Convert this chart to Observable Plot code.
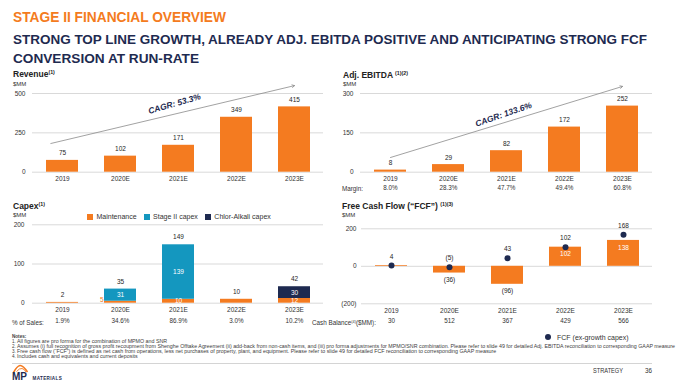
<!DOCTYPE html>
<html><head><meta charset="utf-8">
<script src="https://cdn.jsdelivr.net/npm/d3@7"></script>
<script src="https://cdn.jsdelivr.net/npm/@observablehq/plot@0.6"></script>
<style>
html,body{margin:0;padding:0;background:#fff;}
#page{position:relative;width:677px;height:384px;overflow:hidden;font-family:"Liberation Sans",Arial,sans-serif;color:#262626;}
.abs{position:absolute;white-space:nowrap;line-height:1;}
sup{font-size:0.62em;vertical-align:0.45em;line-height:0;}
</style></head><body><div id="page"></div>
<script>
// ---------- data ----------
const years = ["2019","2020E","2021E","2022E","2023E"];
const revenue = [75,102,171,349,415];
const revenueTicks = [0,250,500];
const ebitda = [8,29,82,172,252];
const ebitdaTicks = [0,150,300];
const ebitdaMargin = ["8.0%","28.3%","47.7%","49.4%","60.8%"];
const capexSeries = ["Maintenance","Stage II capex","Chlor-Alkali capex"];
const capexMaintenance = [2,5,10,10,12];
const capexStage2 = [0,31,139,0,0];
const capexChlorAlkali = [0,0,0,0,30];
const capexTotal = [2,35,149,10,42];
const capexTicks = [0,100,200];
const pctOfSales = ["1.9%","34.6%","86.9%","3.0%","10.2%"];
const fcf = [4,-36,-96,102,138];
const fcfBarLabels = ["","(36)","(96)","102","138"];
const fcfExGrowth = [4,-5,43,102,168];
const fcfTicks = [-200,0,200];
const cashBalance = [30,512,367,429,566];
const revenueCagr = [{x1:"2019",y1:200,x2:"2023E",y2:550,tx:"2021E",ty:434,label:"CAGR: 53.3%"}];
const ebitdaCagr = [{x1:"2019",y1:56,x2:"2023E",y2:327,tx:"2021E",ty:220,label:"CAGR: 133.6%"}];
const notes = [
  "All figures are pro forma for the combination of MPMO and SNR",
  "Assumes (i) full recognition of gross profit recoupment from Shenghe Offtake Agreement (ii) add-back from non-cash items, and (iii) pro forma adjustments for MPMO/SNR combination. Please refer to slide 49 for  detailed Adj. EBITDA reconciliation to corresponding GAAP measure",
  "Free cash flow (\u201CFCF\u201D) is defined as net cash from operations, less net purchases of property, plant, and equipment. Please refer to slide 49 for detailed FCF reconciliation to corresponding GAAP measure",
  "Includes cash and equivalents and current deposits"
];

// ---------- style ----------
const FONT = '"Liberation Sans", Arial, sans-serif';
const ORANGE = "#F47B20", TEAL = "#1497BF", NAVY = "#1E2A50", GRID = "#d9d9d9", TXT = "#262626";
const capexColors = [ORANGE, TEAL, NAVY];
const page = document.getElementById("page");
const fmtNeg = v => v < 0 ? `(${-v})` : String(v);

function label(x, y, html, css = {}, fitW, anchor = "start") {
  const d = document.createElement("div");
  d.className = "abs";
  d.innerHTML = html;
  Object.assign(d.style, {left: x + "px", top: y + "px"}, css);
  page.appendChild(d);
  const w = d.getBoundingClientRect().width;
  const sx = fitW ? fitW / w : 1;
  const tx = anchor === "end" ? -w * sx : anchor === "middle" ? -w * sx / 2 : 0;
  d.style.transformOrigin = "0 0";
  d.style.transform = `translate(${tx}px,-50%) scaleX(${sx})`;
  return d;
}

function chart({left, top, width, height, xa, xb, yTop, yBase, yDomain, yTicks, yFmt = fmtNeg, tickPad = 7, marks, extra = {}}) {
  const svg = Plot.plot({
    width, height,
    marginLeft: xa - left, marginRight: left + width - xb,
    marginTop: yTop - top, marginBottom: top + height - yBase,
    style: {background: "transparent", fontFamily: FONT, fontSize: "6.5px", color: "#333", overflow: "visible"},
    x: {type: "band", domain: years, paddingInner: 0.45, paddingOuter: 0.225, tickSize: 0, tickPadding: 4.5, label: null},
    y: {domain: yDomain, ticks: yTicks, tickFormat: yFmt, tickSize: 0, tickPadding: tickPad, label: null},
    ...extra,
    marks: [Plot.ruleY(yTicks, {stroke: GRID, strokeWidth: 1}), ...marks]
  });
  svg.style.position = "absolute";
  svg.style.left = left + "px";
  svg.style.top = top + "px";
  page.appendChild(svg);
  return svg;
}

// ---------- headings ----------
label(13, 16.7, "STAGE II FINANCIAL OVERVIEW", {fontSize: "14px", fontWeight: "bold", color: ORANGE}, 213);
label(13, 38.7, "STRONG TOP LINE GROWTH, ALREADY ADJ. EBITDA POSITIVE AND ANTICIPATING STRONG FCF", {fontSize: "13px", fontWeight: "bold", color: NAVY}, 634);
label(13, 58.2, "CONVERSION AT RUN-RATE", {fontSize: "13px", fontWeight: "bold", color: NAVY}, 186);

const titleCss = {fontSize: "8.5px", fontWeight: "bold", color: "#222"};
const unitCss = {fontSize: "6px", color: "#333"};
label(13, 74, "Revenue<sup>(1)</sup>", titleCss);
label(13, 83.5, "$MM", unitCss);
label(343, 74.5, "Adj. EBITDA <sup>(1)(2)</sup>", titleCss);
label(343, 84, "$MM", unitCss);
label(13, 206, "Capex<sup>(1)</sup>", titleCss);
label(13, 214.5, "$MM", unitCss);
label(342, 205.7, "Free Cash Flow (\u201CFCF\u201D) <sup>(1)(3)</sup>", titleCss);
label(342, 215, "$MM", unitCss);

const rowCss = {fontSize: "6.3px", color: "#333"};
label(342, 189.3, "Margin:", rowCss);
label(12, 322.7, "% of Sales:", rowCss);
label(312, 322.7, "Cash Balance<sup>(4)</sup>($MM):", rowCss);

// ---------- Revenue ----------
const revData = years.map((year, i) => ({year, value: revenue[i]}));
chart({left: 0, top: 70, width: 340, height: 130, xa: 32, xb: 323, yTop: 93, yBase: 171.7,
  yDomain: [0, 500], yTicks: revenueTicks,
  marks: [
    Plot.barY(revData, {x: "year", y: "value", fill: ORANGE}),
    Plot.text(revData, {x: "year", y: "value", text: d => String(d.value), dy: -7, fill: TXT, fontSize: 6.5}),
    Plot.arrow(revenueCagr, {x1: "x1", y1: "y1", x2: "x2", y2: "y2", stroke: "#8a8a8a", strokeWidth: 0.8, headLength: 5, insetStart: -12}),
    Plot.text(revenueCagr, {x: "tx", y: "ty", text: "label", rotate: -16, dx: -4, fill: NAVY, fontSize: 8.5, fontWeight: "bold", fontStyle: "italic"})
  ]});

// ---------- Adj. EBITDA ----------
const ebData = years.map((year, i) => ({year, value: ebitda[i], margin: ebitdaMargin[i]}));
chart({left: 330, top: 70, width: 340, height: 130, xa: 360, xb: 652, yTop: 93, yBase: 171.7,
  yDomain: [0, 300], yTicks: ebitdaTicks,
  marks: [
    Plot.barY(ebData, {x: "year", y: "value", fill: ORANGE}),
    Plot.text(ebData, {x: "year", y: "value", text: d => String(d.value), dy: -7, fill: TXT, fontSize: 6.5}),
    Plot.text(ebData, {x: "year", text: "margin", frameAnchor: "bottom", dy: 17.6, fill: "#333", fontSize: 6.3}),
    Plot.arrow(ebitdaCagr, {x1: "x1", y1: "y1", x2: "x2", y2: "y2", stroke: "#8a8a8a", strokeWidth: 0.8, headLength: 5}),
    Plot.text(ebitdaCagr, {x: "tx", y: "ty", text: "label", rotate: -19, dx: -3, fill: NAVY, fontSize: 8.5, fontWeight: "bold", fontStyle: "italic"})
  ]});

// ---------- Capex ----------
const capexValues = [capexMaintenance, capexStage2, capexChlorAlkali];
const capexLong = years.flatMap((year, i) => capexSeries.map((series, s) => ({year, series, value: capexValues[s][i]})))
  .filter(d => d.value > 0);
const segCount = y => capexLong.filter(d => d.year === y).length;
const capexTotals = years.map((year, i) => ({year, total: capexTotal[i], pct: pctOfSales[i]}));
chart({left: 0, top: 205, width: 340, height: 125, xa: 32, xb: 323, yTop: 224.3, yBase: 302.7,
  yDomain: [0, 200], yTicks: capexTicks, tickPad: 8,
  extra: {color: {domain: capexSeries, range: capexColors}},
  marks: [
    Plot.barY(capexLong, {x: "year", y: "value", fill: "series"}),
    Plot.text(capexLong, Plot.stackY({x: "year", y: "value", z: "series",
      text: d => segCount(d.year) > 1 && d.value >= 8 ? String(d.value) : "", fill: "white", fontSize: 6.5})),
    Plot.text(capexLong, Plot.stackY({x: "year", y: "value", z: "series",
      text: d => segCount(d.year) > 1 && d.value < 8 ? String(d.value) : "", fill: ORANGE, fontSize: 6.5, textAnchor: "end", dx: -17, dy: -2})),
    Plot.text(capexTotals, {x: "year", y: "total", text: d => String(d.total), dy: -7.5, fill: TXT, fontSize: 6.5}),
    Plot.text(capexTotals, {x: "year", text: "pct", frameAnchor: "bottom", dy: 20, fill: "#333", fontSize: 6.3})
  ]});

const legend = Plot.legend({color: {type: "categorical", domain: capexSeries, range: capexColors},
  swatchSize: 6, style: {fontFamily: FONT, fontSize: "7px", color: "#333", background: "transparent"}});
legend.style.position = "absolute";
legend.style.left = "87px";
legend.style.top = "200.2px";
legend.style.margin = "0";
page.appendChild(legend);

// ---------- FCF ----------
const fcfData = years.map((year, i) => ({year, bar: fcf[i], dot: fcfExGrowth[i], barLabel: fcfBarLabels[i], cash: cashBalance[i]}));
chart({left: 300, top: 205, width: 370, height: 125, xa: 361, xb: 652, yTop: 228.3, yBase: 303.3,
  yDomain: [-200, 200], yTicks: fcfTicks, tickPad: 5,
  marks: [
    Plot.barY(fcfData, {x: "year", y: "bar", fill: ORANGE}),
    Plot.text(fcfData.filter(d => d.bar < 0), {x: "year", y: "bar", text: "barLabel", dy: 7, fill: TXT, fontSize: 6.5}),
    Plot.text(fcfData.filter(d => d.bar >= 0), {x: "year", y: "bar", text: "barLabel", dy: 7, fill: "white", fontSize: 6.5}),
    Plot.dot(fcfData, {x: "year", y: "dot", r: 3, fill: NAVY}),
    Plot.text(fcfData, {x: "year", y: "dot", text: d => fmtNeg(d.dot), dy: -9, fill: TXT, fontSize: 6.5}),
    Plot.text(fcfData, {x: "year", text: d => String(d.cash), frameAnchor: "bottom", dy: 19.4, fill: "#333", fontSize: 6.3})
  ]});

// FCF legend
const dotEl = document.createElement("div");
Object.assign(dotEl.style, {position: "absolute", left: "545.3px", top: "333.7px", width: "6px", height: "6px", borderRadius: "50%", background: NAVY});
page.appendChild(dotEl);
label(557, 336.7, "FCF (ex-growth capex)", {fontSize: "7px", color: "#333"});

// ---------- notes ----------
const noteCss = {fontSize: "4.6px", color: "#404040"};
label(12, 336.5, "Notes:", {...noteCss, fontWeight: "bold"});
const noteY = [341.5, 346.5, 351.5, 356.5];
// measure the longest line to fit the full width
const probe = label(17, -50, notes[1], noteCss);
const noteScale = 658 / probe.getBoundingClientRect().width;
probe.remove();
notes.forEach((t, i) => {
  label(12, noteY[i], (i + 1) + ".", noteCss);
  const el = label(17, noteY[i], t, noteCss);
  const w = el.getBoundingClientRect().width;
  el.style.transform = `translate(0,-50%) scaleX(${noteScale})`;
});

// separator
const sep = document.createElement("div");
Object.assign(sep.style, {position: "absolute", left: "12px", top: "362.5px", width: "640px", height: "1px", background: "#d4d4d4"});
page.appendChild(sep);

// ---------- footer ----------
const logo = document.createElementNS("http://www.w3.org/2000/svg", "svg");
logo.setAttribute("width", "70"); logo.setAttribute("height", "20");
Object.assign(logo.style, {position: "absolute", left: "10px", top: "363px"});
logo.innerHTML = `
  <path d="M3.5,9.5 Q7,3 10,2.5 Q13,2.2 17.5,9" fill="none" stroke="${ORANGE}" stroke-width="1.6"/>
  <path d="M6.5,8.5 Q9.5,5 12,5.5 Q14.5,6 16,9" fill="none" stroke="${ORANGE}" stroke-width="0.9"/>
  <text x="2" y="17.3" font-family='${FONT}' font-weight="bold" font-size="10" fill="${NAVY}">MP</text>
  <text x="22.5" y="16.6" font-family='${FONT}' font-weight="bold" font-size="4.6" letter-spacing="0.35" fill="${NAVY}">MATERIALS</text>`;
page.appendChild(logo);
label(593, 370.5, "STRATEGY", {fontSize: "6.3px", color: "#333"}, 30);
label(645, 370.5, "36", {fontSize: "6.3px", color: "#333"});
</script></body></html>
